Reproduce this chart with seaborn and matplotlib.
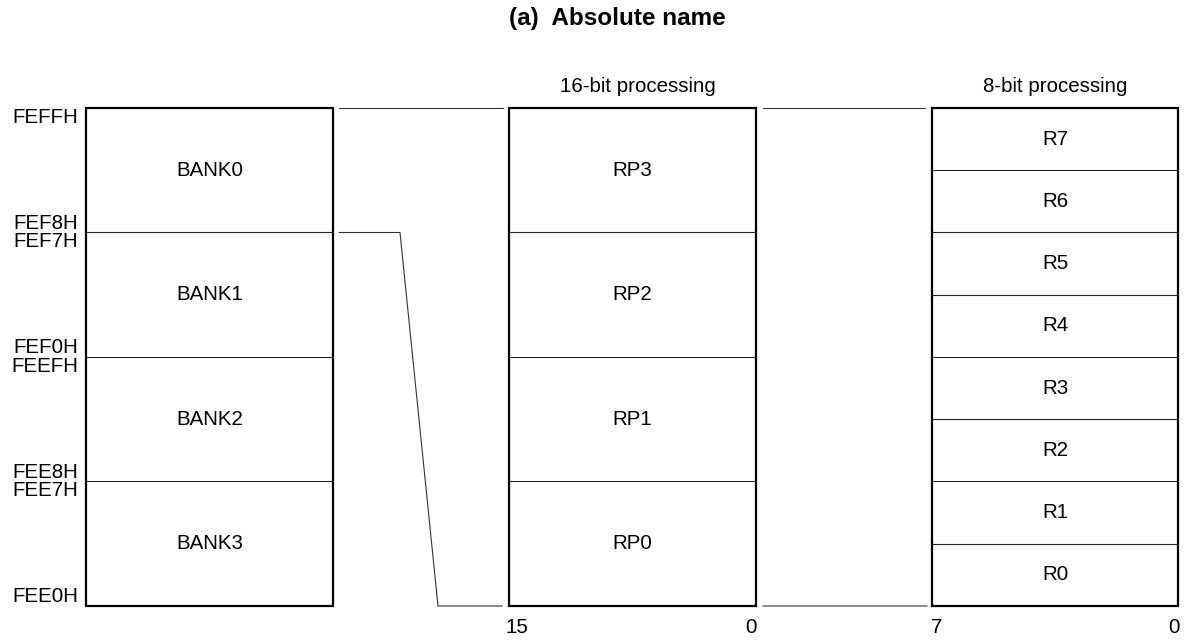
import matplotlib
matplotlib.use("Agg")
import matplotlib.pyplot as plt
from matplotlib.patches import Rectangle
import seaborn as sns

# Datos del diagrama (direcciones en bytes desde FEE0H)
banks = ['BANK3', 'BANK2', 'BANK1', 'BANK0']
bank_lo = ['FEE0H', 'FEE8H', 'FEF0H', 'FEF8H']
bank_hi = ['FEE7H', 'FEEFH', 'FEF7H', 'FEFFH']
bank_size = 8
rp_names = ['RP0', 'RP1', 'RP2', 'RP3']
r_names = ['R0', 'R1', 'R2', 'R3', 'R4', 'R5', 'R6', 'R7']
r_size = 4
bits16 = ['15', '0']
bits8 = ['7', '0']
headers = ['16-bit processing', '8-bit processing']

sns.set_style("white")
plt.rcParams['font.family'] = ['Liberation Sans', 'DejaVu Sans']
plt.rcParams['text.color'] = 'black'

fig = plt.figure(figsize=(11.93, 6.41), dpi=100)
ax = fig.add_axes([0, 0, 1, 1])
ax.set_xlim(0, 1193)
ax.set_ylim(-2.25, 38.94)
ax.axis('off')

total = bank_size * len(banks)
fs = 14.8
thin = 0.8
thick = 1.6

# columnas (x izquierda, x derecha)
col_bank = (86, 333)
col_rp = (509, 756)
col_r = (932, 1178)


def column(x0, x1, names, size):
    for i, name in enumerate(names):
        y0 = i * size
        if i > 0:
            ax.plot([x0, x1], [y0, y0], color='#222222', lw=thin)
        ax.text((x0 + x1) / 2, y0 + size / 2, name, ha='center', va='center', fontsize=fs)
    ax.add_patch(Rectangle((x0, 0), x1 - x0, total, fill=False, edgecolor='black', lw=thick))


column(*col_bank, banks, bank_size)
column(*col_rp, rp_names, bank_size)
column(*col_r, r_names, r_size)

# direcciones
for i in range(len(banks)):
    y0 = i * bank_size
    ax.text(col_bank[0] - 8, y0 + 0.6, bank_lo[i], ha='right', va='center', fontsize=fs)
    ax.text(col_bank[0] - 8, y0 + bank_size - 0.6, bank_hi[i], ha='right', va='center', fontsize=fs)

# lineas de conexion
ax.plot([339, 503], [total, total], color='#333333', lw=thin)
ax.plot([339, 400, 438], [total - bank_size, total - bank_size, 0], color='#333333', lw=thin)
ax.plot([438, 502], [0, 0], color='#777777', lw=1.2)
ax.plot([763, 925], [total, total], color='#333333', lw=thin)
ax.plot([763, 927], [0, 0], color='#777777', lw=1.2)

# cabeceras y bits
ax.text(sum(col_rp) / 2 + 5, 33.4, headers[0], ha='center', va='center', fontsize=fs)
ax.text(sum(col_r) / 2, 33.4, headers[1], ha='center', va='center', fontsize=fs)
ax.text(col_rp[0] + 8, -1.4, bits16[0], ha='center', va='center', fontsize=fs)
ax.text(col_rp[1] - 5, -1.4, bits16[1], ha='center', va='center', fontsize=fs)
ax.text(col_r[0] + 5, -1.4, bits8[0], ha='center', va='center', fontsize=fs)
ax.text(col_r[1] - 4, -1.4, bits8[1], ha='center', va='center', fontsize=fs)

ax.text(617, 37.75, '(a)  Absolute name', ha='center', va='center', fontsize=17.5, fontweight='bold')

plt.savefig('out.png', dpi=100)
plt.close()
